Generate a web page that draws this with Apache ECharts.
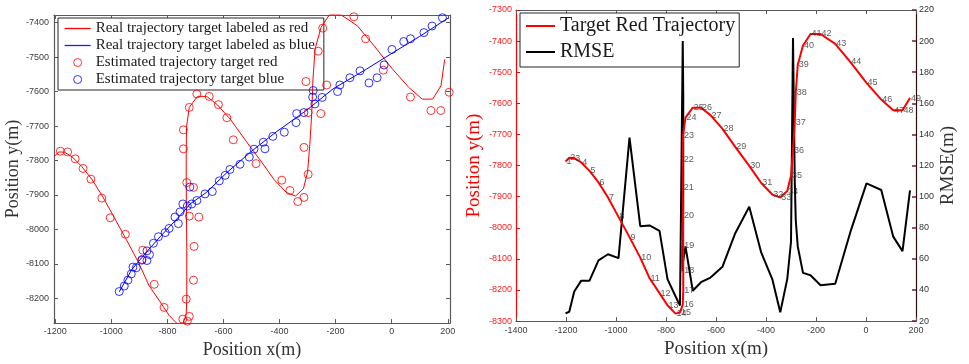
<!DOCTYPE html>
<html>
<head>
<meta charset="utf-8">
<script src="https://cdn.jsdelivr.net/npm/echarts@6/dist/echarts.min.js"></script>
<style>
html, body { margin: 0; padding: 0; background: #ffffff; }
#chart { width: 969px; height: 364px; }
</style>
</head>
<body>
<div id="chart"></div>
<script>
// Real trajectory of the target labelled red (x, y in metres)
const redTrackX = [-1202, -1187, -1167, -1139, -1106, -1070, -1032, -990, -946, -903,
  -866, -826, -794, -762, -744, -733, -731, -731, -731, -732,
  -733, -733, -732, -722, -693, -660, -622, -574, -523, -467,
  -419, -375, -343, -315, -300, -292, -285, -281, -273, -252,
  -222, -182, -123, -63, 2, 61, 109, 146, 176, 189];
const redTrackY = [-7787, -7775, -7776, -7790, -7817, -7854, -7903, -7965, -8030, -8096,
  -8162, -8210, -8249, -8276, -8272, -8247, -8202, -8136, -8057, -7962,
  -7870, -7780, -7703, -7646, -7614, -7614, -7638, -7682, -7740, -7801,
  -7856, -7893, -7903, -7882, -7833, -7753, -7661, -7566, -7476, -7414,
  -7377, -7377, -7409, -7467, -7534, -7588, -7622, -7622, -7583, -7507];

// Real trajectory of the target labelled blue
const blueTrackX = [-972, -927, -873, -826, -743, -719, -660, -588, -494, -410, -303, -209, -90, 5, 100, 201];
const blueTrackY = [-8181, -8116, -8064, -8021, -7949, -7926, -7892, -7835, -7769, -7716, -7654, -7592, -7535, -7487, -7440, -7387];

// Estimated positions, red target
const redEstX = [-1182, -1156, -1129, -1101, -1073, -1034, -1004, -950, -888, -891,
  -847, -812, -745, -729, -722, -733, -707, -705, -722, -688,
  -731, -707, -743, -743, -722, -695, -651, -618, -588, -565,
  -484, -392, -363, -335, -313, -298, -313, -298, -253, -306,
  -232, -262, -246, -135, -93, -30, 67, 140, 175, 205];
const redEstY = [-7773, -7775, -7795, -7823, -7854, -7909, -7966, -8014, -8060, -8087,
  -8159, -8226, -8260, -8266, -8252, -8202, -8147, -8049, -7961, -7964,
  -7864, -7878, -7766, -7711, -7646, -7607, -7614, -7638, -7676, -7740,
  -7809, -7857, -7887, -7919, -7907, -7840, -7762, -7661, -7664, -7571,
  -7581, -7483, -7416, -7383, -7447, -7538, -7616, -7655, -7655, -7602];

// Estimated positions, blue target
const blueEstX = [-972, -954, -941, -929, -923, -911, -891, -873, -864, -873,
  -850, -832, -808, -794, -761, -773, -755, -745, -729, -713,
  -720, -695, -666, -640, -615, -594, -577, -541, -508, -491,
  -452, -458, -424, -383, -341, -339, -313, -282, -274, -280,
  -248, -193, -185, -149, -113, -81, -52, -27, 1, 43,
  67, 115, 144, 181];
const blueEstY = [-8180, -8164, -8147, -8129, -8109, -8111, -8089, -8090, -8073, -8062,
  -8040, -8021, -8009, -7997, -7983, -7964, -7949, -7926, -7932, -7926,
  -7877, -7916, -7897, -7890, -7859, -7843, -7826, -7811, -7790, -7767,
  -7766, -7747, -7730, -7718, -7690, -7664, -7661, -7616, -7636, -7597,
  -7617, -7600, -7581, -7560, -7540, -7575, -7560, -7523, -7478, -7455,
  -7447, -7429, -7410, -7386];

// RMSE (m) at each of the first 49 track points
const rmse = [25, 26, 39, 46, 46, 59, 63, 60.5, 138, 81,
  81.5, 78, 47, 36, 30, 200, 165, 120, 90, 72,
  60, 52, 58, 68, 39.5, 45, 48, 55, 76.5, 93.5,
  64, 47, 25.7, 47, 71, 202, 110, 85, 68, 51,
  49.5, 43, 44, 77, 108.5, 104.3, 74.3, 65, 104];

// Tick positions
const xTicksLeft = [-1200, -1000, -800, -600, -400, -200, 0, 200];
const yTicksLeft = [-8200, -8100, -8000, -7900, -7800, -7700, -7600, -7500, -7400];

const NAME_RED = 'Real trajectory target labeled as red';
const NAME_BLUE = 'Real trajectory target labeled as blue';
const NAME_RED_EST = 'Estimated trajectory target red';
const NAME_BLUE_EST = 'Estimated trajectory target blue';
const NAME_TRAJ = 'Target Red Trajectory';
const NAME_RMSE = 'RMSE';

const pairs = (xs, ys) => xs.map((x, i) => [x, ys[i]]);
const nLabelled = rmse.length;
const trajX = redTrackX.slice(0, nLabelled);
const trajY = redTrackY.slice(0, nLabelled);

const SANS = 'Liberation Sans';
const SERIF = 'Liberation Serif';
const FRAME = '#5a5a5a';
const TICKTXT = '#404040';
const plain = v => String(v);

function frameAxis(extra) {
  return Object.assign({
    axisLine: { show: true, onZero: false, lineStyle: { color: FRAME, width: 1.2 } },
    axisTick: { show: true, inside: true, length: 4, lineStyle: { color: FRAME } },
    axisLabel: { show: false },
    splitLine: { show: false }
  }, extra);
}

const chart = echarts.init(document.getElementById('chart'), null, { renderer: 'canvas' });

chart.setOption({
  animation: false,
  backgroundColor: '#ffffff',
  grid: [
    { left: 54, top: 15, width: 396, height: 312 },
    { left: 516, top: 10, width: 400, height: 316 }
  ],
  xAxis: [
    frameAxis({
      gridIndex: 0, type: 'value', position: 'bottom', min: -1204.6, max: 208,
      axisTick: { show: true, inside: true, length: 4, customValues: xTicksLeft, lineStyle: { color: FRAME } },
      axisLabel: { show: true, customValues: xTicksLeft, formatter: plain, margin: 4, fontFamily: SANS, fontSize: 9, color: TICKTXT },
      name: 'Position x(m)', nameLocation: 'middle', nameGap: 15,
      nameTextStyle: { fontFamily: SERIF, fontSize: 18, color: '#333' }
    }),
    frameAxis({
      gridIndex: 0, type: 'value', position: 'top', min: -1204.6, max: 208,
      axisTick: { show: true, inside: true, length: 4, customValues: xTicksLeft, lineStyle: { color: FRAME } }
    }),
    frameAxis({
      gridIndex: 1, type: 'value', position: 'bottom', min: -1400, max: 200, interval: 200,
      axisLabel: { show: true, formatter: plain, margin: 5, fontFamily: SANS, fontSize: 9, color: TICKTXT },
      name: 'Position x(m)', nameLocation: 'middle', nameGap: 16,
      nameTextStyle: { fontFamily: SERIF, fontSize: 19, color: '#333' }
    }),
    frameAxis({
      gridIndex: 1, type: 'value', position: 'top', min: -1400, max: 200, interval: 200
    })
  ],
  yAxis: [
    frameAxis({
      gridIndex: 0, type: 'value', position: 'left', min: -8271.5, max: -7378,
      axisTick: { show: true, inside: true, length: 4, customValues: yTicksLeft, lineStyle: { color: FRAME } },
      axisLabel: { show: true, customValues: yTicksLeft, formatter: plain, margin: 5, fontFamily: SANS, fontSize: 9, color: TICKTXT },
      name: 'Position y(m)', nameLocation: 'middle', nameRotate: 90, nameGap: 30,
      nameTextStyle: { fontFamily: SERIF, fontSize: 18, color: '#333' }
    }),
    frameAxis({
      gridIndex: 0, type: 'value', position: 'right', min: -8271.5, max: -7378,
      axisTick: { show: true, inside: true, length: 4, customValues: yTicksLeft, lineStyle: { color: FRAME } }
    }),
    {
      gridIndex: 1, type: 'value', position: 'left', min: -8300, max: -7300, interval: 100,
      axisLine: { show: true, onZero: false, lineStyle: { color: '#ff0000', width: 1.2 } },
      axisTick: { show: true, inside: true, length: 4, lineStyle: { color: '#ff0000' } },
      axisLabel: { show: true, formatter: plain, margin: 4, fontFamily: SANS, fontSize: 9, color: '#ff1a1a' },
      splitLine: { show: false },
      name: 'Position y(m)', nameLocation: 'middle', nameRotate: 90, nameGap: 32,
      nameTextStyle: { fontFamily: SERIF, fontSize: 19, color: '#ff0000' }
    },
    {
      gridIndex: 1, type: 'value', position: 'right', min: 20, max: 220, interval: 20,
      axisLine: { show: true, onZero: false, lineStyle: { color: '#2a0d0d', width: 1.2 } },
      axisTick: { show: true, inside: true, length: 4, lineStyle: { color: '#7a1f1f', width: 1.5 } },
      axisLabel: { show: true, formatter: plain, margin: 3, fontFamily: SANS, fontSize: 9, color: '#333' },
      splitLine: { show: false },
      name: 'RMSE(m)', nameLocation: 'middle', nameRotate: 90, nameGap: 23,
      nameTextStyle: { fontFamily: SERIF, fontSize: 19, color: '#333' }
    }
  ],
  legend: [
    {
      orient: 'vertical', left: 58, top: 18, z: 1, selectedMode: false,
      backgroundColor: '#ffffff', borderColor: '#262626', borderWidth: 1, borderRadius: 0,
      padding: [3, 9, 3, 6], itemGap: 2, itemWidth: 26, itemHeight: 8,
      lineStyle: { width: 1.3 },
      textStyle: { fontFamily: SERIF, fontSize: 15, lineHeight: 15, color: '#1a1a1a' },
      data: [
        { name: NAME_RED, itemStyle: { opacity: 0 }, lineStyle: { color: '#ff0000', width: 1.3 } },
        { name: NAME_BLUE, itemStyle: { opacity: 0 }, lineStyle: { color: '#1a1aff', width: 1.3 } },
        { name: NAME_RED_EST, icon: 'circle', itemStyle: { color: 'rgba(0,0,0,0)', borderColor: '#ff0000', borderWidth: 1 } },
        { name: NAME_BLUE_EST, icon: 'circle', itemStyle: { color: 'rgba(0,0,0,0)', borderColor: '#0000ff', borderWidth: 1 } }
      ]
    },
    {
      orient: 'vertical', left: 520, top: 13, z: 1, selectedMode: false,
      backgroundColor: '#ffffff', borderColor: '#262626', borderWidth: 1, borderRadius: 0,
      padding: [3, 4, 5, 5], itemGap: 6, itemWidth: 29, itemHeight: 10,
      lineStyle: { width: 2 },
      textStyle: { fontFamily: SERIF, fontSize: 20, lineHeight: 20, color: '#1a1a1a' },
      data: [
        { name: NAME_TRAJ, itemStyle: { opacity: 0 }, lineStyle: { color: '#ff0000', width: 2 } },
        { name: NAME_RMSE, itemStyle: { opacity: 0 }, lineStyle: { color: '#000000', width: 2 } }
      ]
    }
  ],
  series: [
    {
      name: NAME_RED, type: 'line', xAxisIndex: 0, yAxisIndex: 0,
      data: pairs(redTrackX, redTrackY), symbol: 'none', color: '#ff0000',
      lineStyle: { color: '#ff0000', width: 1 }, z: 3
    },
    {
      name: NAME_BLUE, type: 'line', xAxisIndex: 0, yAxisIndex: 0,
      data: pairs(blueTrackX, blueTrackY), symbol: 'none', color: '#0000ff',
      lineStyle: { color: '#0000ff', width: 1 }, z: 3
    },
    {
      name: NAME_RED_EST, type: 'scatter', xAxisIndex: 0, yAxisIndex: 0,
      data: pairs(redEstX, redEstY), symbol: 'circle', symbolSize: 8, clip: false,
      itemStyle: { color: 'rgba(0,0,0,0)', borderColor: '#ff0000', borderWidth: 1 }, z: 4
    },
    {
      name: NAME_BLUE_EST, type: 'scatter', xAxisIndex: 0, yAxisIndex: 0,
      data: pairs(blueEstX, blueEstY), symbol: 'circle', symbolSize: 8, clip: false,
      itemStyle: { color: 'rgba(0,0,0,0)', borderColor: '#0000ff', borderWidth: 1 }, z: 4
    },
    {
      name: NAME_RMSE, type: 'line', xAxisIndex: 2, yAxisIndex: 3,
      data: pairs(trajX, rmse), symbol: 'none', color: '#000000',
      lineStyle: { color: '#000000', width: 2 }, z: 3
    },
    {
      name: NAME_TRAJ, type: 'line', xAxisIndex: 2, yAxisIndex: 2,
      data: pairs(trajX, trajY), symbol: 'none', color: '#ff0000',
      lineStyle: { color: '#ff0000', width: 2 }, z: 4
    },
    {
      name: 'point numbers', type: 'scatter', xAxisIndex: 2, yAxisIndex: 2,
      data: pairs(trajX, trajY), symbol: 'circle', symbolSize: 1, silent: true,
      itemStyle: { color: 'rgba(0,0,0,0)' }, z: 6,
      label: {
        show: true, position: 'right', distance: 0.5,
        formatter: p => String(p.dataIndex + 1),
        fontFamily: SANS, fontSize: 9, color: '#333'
      }
    }
  ]
});
</script>
</body>
</html>
